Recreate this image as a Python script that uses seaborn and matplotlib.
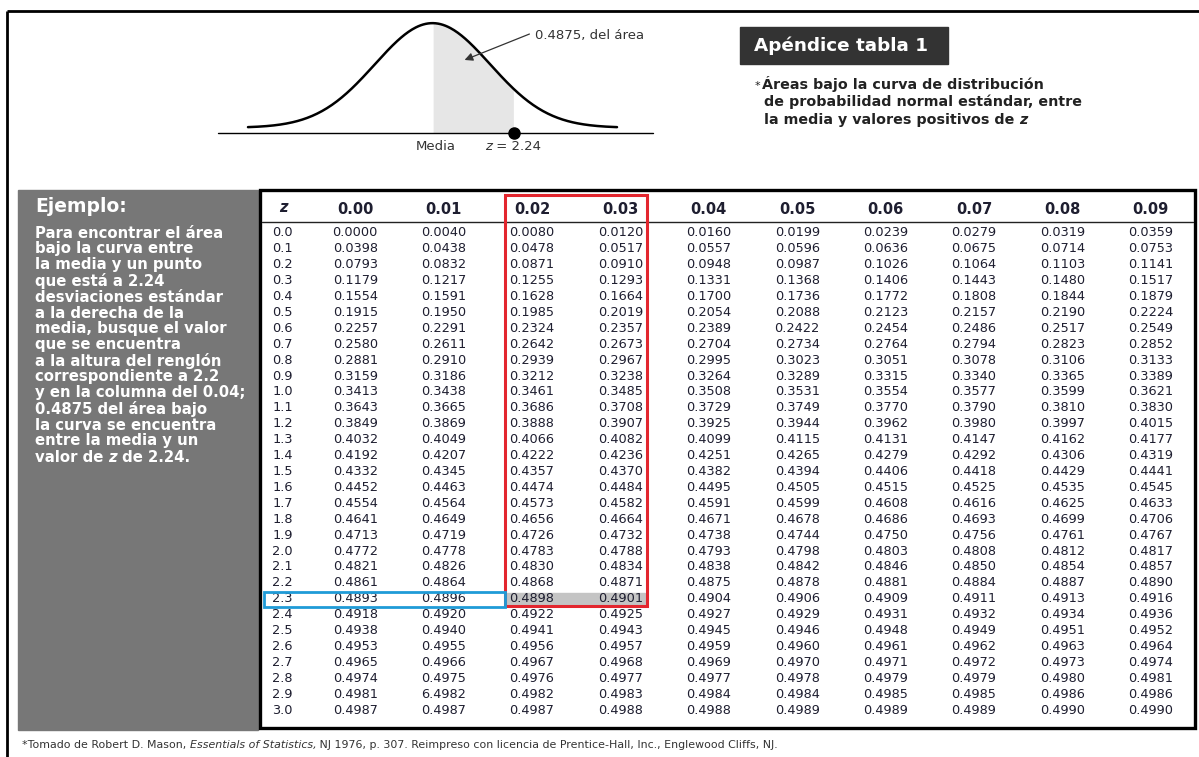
import numpy as np
import pandas as pd
import matplotlib
matplotlib.use('Agg')
import matplotlib.pyplot as plt
from matplotlib.colors import ListedColormap
from matplotlib.patches import Rectangle
import seaborn as sns

sns.set_theme(style='white')
plt.rcParams['font.family'] = ['DejaVu Sans']

# table data (values as printed, typo in row 2.9 kept)
z_labels = ['0.0', '0.1', '0.2', '0.3', '0.4', '0.5', '0.6', '0.7', '0.8', '0.9',
            '1.0', '1.1', '1.2', '1.3', '1.4', '1.5', '1.6', '1.7', '1.8', '1.9',
            '2.0', '2.1', '2.2', '2.3', '2.4', '2.5', '2.6', '2.7', '2.8', '2.9', '3.0']
col_labels = ['0.00', '0.01', '0.02', '0.03', '0.04', '0.05', '0.06', '0.07', '0.08', '0.09']
area_rows = [
    '0.0000 0.0040 0.0080 0.0120 0.0160 0.0199 0.0239 0.0279 0.0319 0.0359',
    '0.0398 0.0438 0.0478 0.0517 0.0557 0.0596 0.0636 0.0675 0.0714 0.0753',
    '0.0793 0.0832 0.0871 0.0910 0.0948 0.0987 0.1026 0.1064 0.1103 0.1141',
    '0.1179 0.1217 0.1255 0.1293 0.1331 0.1368 0.1406 0.1443 0.1480 0.1517',
    '0.1554 0.1591 0.1628 0.1664 0.1700 0.1736 0.1772 0.1808 0.1844 0.1879',
    '0.1915 0.1950 0.1985 0.2019 0.2054 0.2088 0.2123 0.2157 0.2190 0.2224',
    '0.2257 0.2291 0.2324 0.2357 0.2389 0.2422 0.2454 0.2486 0.2517 0.2549',
    '0.2580 0.2611 0.2642 0.2673 0.2704 0.2734 0.2764 0.2794 0.2823 0.2852',
    '0.2881 0.2910 0.2939 0.2967 0.2995 0.3023 0.3051 0.3078 0.3106 0.3133',
    '0.3159 0.3186 0.3212 0.3238 0.3264 0.3289 0.3315 0.3340 0.3365 0.3389',
    '0.3413 0.3438 0.3461 0.3485 0.3508 0.3531 0.3554 0.3577 0.3599 0.3621',
    '0.3643 0.3665 0.3686 0.3708 0.3729 0.3749 0.3770 0.3790 0.3810 0.3830',
    '0.3849 0.3869 0.3888 0.3907 0.3925 0.3944 0.3962 0.3980 0.3997 0.4015',
    '0.4032 0.4049 0.4066 0.4082 0.4099 0.4115 0.4131 0.4147 0.4162 0.4177',
    '0.4192 0.4207 0.4222 0.4236 0.4251 0.4265 0.4279 0.4292 0.4306 0.4319',
    '0.4332 0.4345 0.4357 0.4370 0.4382 0.4394 0.4406 0.4418 0.4429 0.4441',
    '0.4452 0.4463 0.4474 0.4484 0.4495 0.4505 0.4515 0.4525 0.4535 0.4545',
    '0.4554 0.4564 0.4573 0.4582 0.4591 0.4599 0.4608 0.4616 0.4625 0.4633',
    '0.4641 0.4649 0.4656 0.4664 0.4671 0.4678 0.4686 0.4693 0.4699 0.4706',
    '0.4713 0.4719 0.4726 0.4732 0.4738 0.4744 0.4750 0.4756 0.4761 0.4767',
    '0.4772 0.4778 0.4783 0.4788 0.4793 0.4798 0.4803 0.4808 0.4812 0.4817',
    '0.4821 0.4826 0.4830 0.4834 0.4838 0.4842 0.4846 0.4850 0.4854 0.4857',
    '0.4861 0.4864 0.4868 0.4871 0.4875 0.4878 0.4881 0.4884 0.4887 0.4890',
    '0.4893 0.4896 0.4898 0.4901 0.4904 0.4906 0.4909 0.4911 0.4913 0.4916',
    '0.4918 0.4920 0.4922 0.4925 0.4927 0.4929 0.4931 0.4932 0.4934 0.4936',
    '0.4938 0.4940 0.4941 0.4943 0.4945 0.4946 0.4948 0.4949 0.4951 0.4952',
    '0.4953 0.4955 0.4956 0.4957 0.4959 0.4960 0.4961 0.4962 0.4963 0.4964',
    '0.4965 0.4966 0.4967 0.4968 0.4969 0.4970 0.4971 0.4972 0.4973 0.4974',
    '0.4974 0.4975 0.4976 0.4977 0.4977 0.4978 0.4979 0.4979 0.4980 0.4981',
    '0.4981 6.4982 0.4982 0.4983 0.4984 0.4984 0.4985 0.4985 0.4986 0.4986',
    '0.4987 0.4987 0.4987 0.4988 0.4988 0.4989 0.4989 0.4989 0.4990 0.4990',
]
hl_row = '2.3'
hl_cols = ['0.02', '0.03']

sidebar_lines = ['Para encontrar el área', 'bajo la curva entre', 'la media y un punto',
                 'que está a 2.24', 'desviaciones estándar', 'a la derecha de la',
                 'media, busque el valor', 'que se encuentra', 'a la altura del renglón',
                 'correspondiente a 2.2', 'y en la columna del 0.04;', '0.4875 del área bajo',
                 'la curva se encuentra', 'entre la media y un']
example_z = 2.24
example_area = '0.4875'

ink = '#1e1e30'

fig = plt.figure(figsize=(11.99, 7.57), dpi=100)
bg = fig.add_axes([0, 0, 1, 1])
bg.set_xlim(0, 1199)
bg.set_ylim(757, 0)
bg.axis('off')
renderer = fig.canvas.get_renderer()


def rich(ax, x, y, parts, **kw):
    # draw text pieces one after another (for mixed italic)
    for s, style in parts:
        t = ax.text(x, y, s, fontstyle=style, **kw)
        x += t.get_window_extent(renderer=renderer).width


# page frame
bg.plot([7, 1199], [11, 11], color='black', lw=2, solid_capstyle='butt')
bg.plot([7, 7], [11, 757], color='black', lw=2, solid_capstyle='butt')

# title block
bg.add_patch(Rectangle((740, 27), 208, 37, color='#333333'))
bg.text(754, 46, 'Apéndice tabla 1', color='white', fontsize=13.2, fontweight='bold', va='center')
bg.text(755, 86, '*', color='#222', fontsize=8, va='center')
bg.text(762, 84, 'Áreas bajo la curva de distribución', color='#222', fontsize=10.3,
        fontweight='bold', va='center')
bg.text(764, 102, 'de probabilidad normal estándar, entre', color='#222', fontsize=10.3,
        fontweight='bold', va='center')
rich(bg, 764, 120, [('la media y valores positivos de ', 'normal'), ('z', 'italic')],
     color='#222', fontsize=10.3, fontweight='bold', va='center')

# sidebar
bg.add_patch(Rectangle((18, 190), 240, 540, color='#777777'))
bg.text(35, 207, 'Ejemplo:', color='white', fontsize=13.5, fontweight='bold', va='center')
for i, line in enumerate(sidebar_lines):
    bg.text(35, 233 + 16 * i, line, color='white', fontsize=10.7, fontweight='bold', va='center')
rich(bg, 35, 233 + 16 * len(sidebar_lines),
     [('valor de ', 'normal'), ('z', 'italic'), (' de %.2f.' % example_z, 'normal')],
     color='white', fontsize=10.7, fontweight='bold', va='center')

# table frame
bg.add_patch(Rectangle((260, 190), 935, 538, fill=False, ec='black', lw=2.4))
bg.plot([262, 1193], [222, 222], color='#222', lw=1)
bg.text(283, 208, 'z', color=ink, fontsize=10.5, fontweight='bold', fontstyle='italic',
        ha='center', va='center')

# table body via heatmap (transparent cells, annotations only)
grid = pd.DataFrame([r.split() for r in area_rows], index=z_labels, columns=col_labels)
ax_h = fig.add_axes([311 / 1199, 1 - 718 / 757, 884 / 1199, 493 / 757])
sns.heatmap(np.zeros(grid.shape), annot=grid.values, fmt='', cbar=False,
            cmap=ListedColormap([(1, 1, 1, 0)]), xticklabels=col_labels,
            yticklabels=z_labels, ax=ax_h,
            annot_kws=dict(fontsize=9.3, color=ink))
ax_h.set_facecolor('none')
ax_h.xaxis.tick_top()
ax_h.tick_params(axis='x', length=0, pad=6, labelsize=10.5, labelcolor=ink, rotation=0)
ax_h.tick_params(axis='y', length=0, pad=28, labelsize=9.3, labelcolor=ink, rotation=0)
for lab in ax_h.get_xticklabels():
    lab.set_fontweight('bold')
for lab in ax_h.get_yticklabels():
    lab.set_ha('left')

# highlight of the example lookup
r = z_labels.index(hl_row)
c0 = col_labels.index(hl_cols[0])
c1 = col_labels.index(hl_cols[-1]) + 1
ax_h.add_patch(Rectangle((c0 + 0.22, r + 0.14), c1 - c0 - 0.44, 0.82, color='#c4c4c4',
                         zorder=0, clip_on=False))
ax_h.add_patch(Rectangle((c0 + 0.2, -1.89), c1 - c0 - 0.4, r + 1.89 + 0.93, fill=False,
                         ec='#e3262e', lw=2.2, clip_on=False, zorder=5))
ax_h.add_patch(Rectangle((-0.53, r + 0.08), c0 + 0.73, 0.95, fill=False,
                         ec='#1f9bd7', lw=2, clip_on=False, zorder=5))

# normal curve sketch (kept under the annotation layer)
ax_c = fig.add_axes([218 / 1199, 1 - 133 / 757, 435 / 1199, 118 / 757])
ax_c.set_zorder(-1)
curve_z = np.linspace(-3.2, 3.2, 300)
curve_y = 0.02 + np.exp(-curve_z ** 2 / 2) / np.sqrt(2 * np.pi)
shade_end = 1.41  # drawn position of z = 2.24 on the sketch
sns.lineplot(x=curve_z, y=curve_y, ax=ax_c, color='black', lw=1.8)
m = (curve_z >= 0) & (curve_z <= shade_end)
ax_c.fill_between(curve_z[m], 0, curve_y[m], color='#e6e6e6', lw=0)
ax_c.axhline(0, color='black', lw=1, clip_on=False)
ax_c.plot([shade_end], [0], 'o', color='black', ms=8, clip_on=False)
ax_c.set_xlim(-3.72, 3.824)
ax_c.set_ylim(0, 0.45)
ax_c.axis('off')

bg.annotate('', xy=(462, 61), xytext=(532, 33),
            arrowprops=dict(arrowstyle='-|>', color='#333', lw=0.9, mutation_scale=12))
bg.text(535, 36, '%s, del área' % example_area, color='#333', fontsize=9.5, va='center')
bg.text(436, 146, 'Media', color='#333', fontsize=9.5, ha='center', va='center')
rich(bg, 485, 146, [('z', 'italic'), (' = %.2f' % example_z, 'normal')],
     color='#333', fontsize=9.5, va='center')

# footer
rich(bg, 22, 745, [('*Tomado de Robert D. Mason, ', 'normal'),
                   ('Essentials of Statistics,', 'italic'),
                   (' NJ 1976, p. 307. Reimpreso con licencia de Prentice-Hall, Inc., '
                    'Englewood Cliffs, NJ.', 'normal')],
     color='#333', fontsize=7.9, va='center',
     family=['Liberation Sans Narrow', 'DejaVu Sans'])

fig.savefig('out.png', dpi=100)
